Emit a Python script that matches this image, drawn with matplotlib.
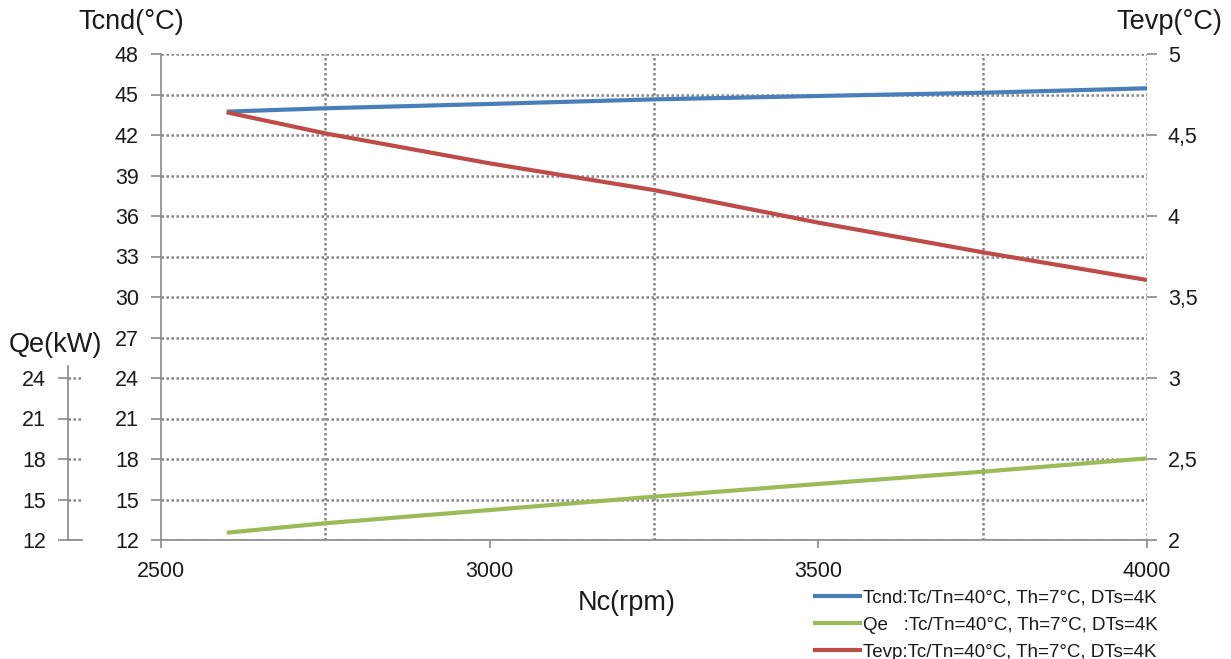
import matplotlib
matplotlib.use("Agg")
from matplotlib import pyplot as plt
from matplotlib.ticker import FuncFormatter, MultipleLocator
from matplotlib.lines import Line2D

plt.rcParams["font.family"] = ["Liberation Sans", "DejaVu Sans"]

# compressor speed and measured results
nc = [2600, 2750, 3000, 3250, 3500, 3750, 4000]
tcnd = [43.73, 43.98, 44.30, 44.64, 44.89, 45.13, 45.46]
qe = [12.54, 13.24, 14.22, 15.21, 16.15, 17.06, 18.05]
tevp = [4.640, 4.510, 4.325, 4.160, 3.959, 3.776, 3.605]

cond = "Tc/Tn=40°C, Th=7°C, DTs=4K"
labels = ["Tcnd:" + cond, "Qe   :" + cond, "Tevp:" + cond]
colors = ["#4A7EBB", "#9BBB59", "#BE4B48"]

W, H = 1231, 659
fig = plt.figure(figsize=(W / 100, H / 100), dpi=100)

def box(x0, y0, x1, y1):
    return [x0 / W, 1 - y1 / H, (x1 - x0) / W, (y1 - y0) / H]

axis_grey = "#8a8a8a"
grid_kw = dict(color="#858585", linestyle=(0, (1, 1)), linewidth=1.8)
txt = "#1a1a1a"

ax = fig.add_axes(box(161, 54, 1147, 540))
ax.set_xlim(2500, 4000)
ax.set_ylim(12, 48)
ax.yaxis.set_major_locator(MultipleLocator(3))
ax.xaxis.set_major_locator(MultipleLocator(500))
ax.xaxis.set_minor_locator(MultipleLocator(250))
ax.grid(axis="y", which="major", **grid_kw)
ax.grid(axis="x", which="minor", **grid_kw)
ax.set_axisbelow(True)
for s in ["top", "right"]:
    ax.spines[s].set_visible(False)
for s in ["left", "bottom"]:
    ax.spines[s].set_color(axis_grey)
    ax.spines[s].set_linewidth(1.2)
ax.tick_params(axis="y", length=7, width=1.2, color=axis_grey, pad=9,
               labelsize=15.5, labelcolor=txt)
ax.tick_params(axis="x", which="major", length=6, width=1.2, color=axis_grey,
               pad=9, labelsize=15.5, labelcolor=txt)
ax.tick_params(axis="x", which="minor", length=0)
# vertical gridline at the right edge
ax.axvline(4000, **grid_kw)

ax2 = ax.twinx()
ax2.set_ylim(2, 5)
ax2.yaxis.set_major_locator(MultipleLocator(0.5))
ax2.yaxis.set_major_formatter(FuncFormatter(lambda v, p: f"{v:g}".replace(".", ",")))
for s in ax2.spines.values():
    s.set_visible(False)
ax2.tick_params(axis="y", length=7, width=1.2, color=axis_grey, pad=8,
                labelsize=15.5, labelcolor=txt)

# Qe uses the same 12..48 scale as Tcnd (see the small Qe axis)
l1, = ax.plot(nc, tcnd, color=colors[0], lw=3, solid_capstyle="butt")
l2, = ax.plot(nc, qe, color=colors[1], lw=3, solid_capstyle="butt")
l3, = ax2.plot(nc, tevp, color=colors[2], lw=3, solid_capstyle="butt")

# small Qe axis on the left
axq = fig.add_axes(box(68, 366, 82, 540))
axq.set_xlim(0, 1)
axq.set_ylim(12, 12 + 174 / 13.5)
axq.set_yticks([12, 15, 18, 21, 24])
axq.set_xticks([])
axq.grid(axis="y", **grid_kw)
for s in ["top", "right"]:
    axq.spines[s].set_visible(False)
for s in ["left", "bottom"]:
    axq.spines[s].set_color(axis_grey)
    axq.spines[s].set_linewidth(1.2)
axq.patch.set_alpha(0)
axq.tick_params(axis="y", length=7, width=1.2, color=axis_grey, pad=9,
                labelsize=15.5, labelcolor=txt)

title_kw = dict(fontsize=19.5, va="center", color=txt)
fig.text(78 / W, 1 - 22 / H, "Tcnd(°C)", ha="left", **title_kw)
fig.text(1222 / W, 1 - 22 / H, "Tevp(°C)", ha="right", **title_kw)
fig.text(55 / W, 1 - 345 / H, "Qe(kW)", ha="center", **title_kw)
fig.text(627 / W, 1 - 603 / H, "Nc(rpm)", ha="center", **title_kw)

handles = [Line2D([], [], color=c, lw=3) for c in colors]
fig.legend(handles, labels, loc="upper left", bbox_to_anchor=(815 / W, 1 - 589 / H),
           frameon=False, fontsize=13.5, handlelength=2.4, handletextpad=0.15,
           labelspacing=0.55, borderpad=0, borderaxespad=0, labelcolor=txt)

fig.savefig("out.png", dpi=100)
